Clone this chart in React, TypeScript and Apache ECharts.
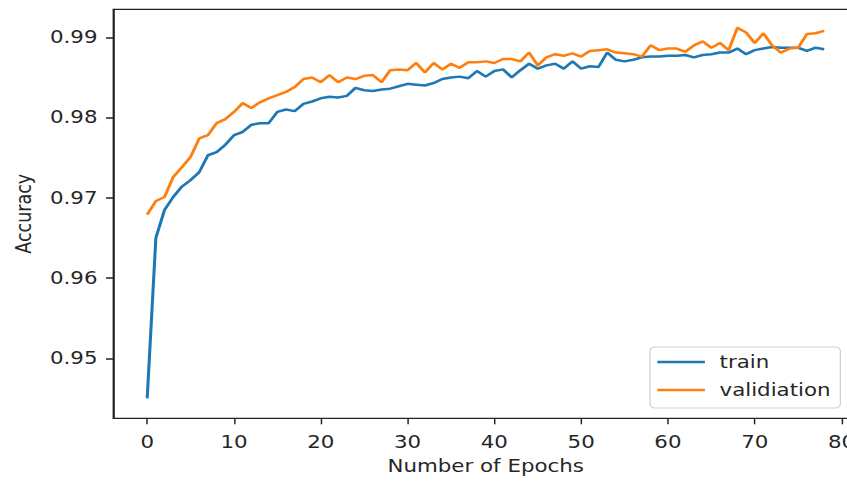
import React, { useEffect, useRef } from "react";
import * as echarts from "echarts";

// Accuracy per epoch (epochs 0..78)
const trainAcc = [
  0.945, 0.965, 0.9685, 0.9701, 0.9714, 0.9722, 0.9732, 0.9753, 0.9757, 0.9766,
  0.9778, 0.9782, 0.9791, 0.9793, 0.9793, 0.9807, 0.981, 0.9808, 0.9817, 0.982,
  0.9824, 0.9826, 0.9825, 0.9827, 0.9837, 0.9834, 0.9833, 0.9835, 0.9836, 0.9839,
  0.9842, 0.9841, 0.984, 0.9843, 0.9848, 0.985, 0.9851, 0.9849, 0.9858, 0.9851,
  0.9858, 0.986, 0.985, 0.9859, 0.9867, 0.9861, 0.9865, 0.9867, 0.9861, 0.987,
  0.9861, 0.9864, 0.9863, 0.9881, 0.9872, 0.987, 0.9872, 0.9875, 0.9876, 0.9876,
  0.9877, 0.9877, 0.9878, 0.9875, 0.9878, 0.9879, 0.9881, 0.9881, 0.9886, 0.9879,
  0.9884, 0.9886, 0.9888, 0.9887, 0.9887, 0.9887, 0.9883, 0.9887, 0.9885,
];

const validationAcc = [
  0.9679, 0.9696, 0.9701, 0.9726, 0.9738, 0.9751, 0.9774, 0.9778, 0.9793, 0.9798,
  0.9807, 0.9818, 0.9812, 0.9819, 0.9824, 0.9828, 0.9832, 0.9838, 0.9848, 0.985,
  0.9844, 0.9853, 0.9844, 0.985, 0.9848, 0.9852, 0.9853, 0.9844, 0.9859, 0.986,
  0.9859, 0.9868, 0.9856, 0.9868, 0.986, 0.9867, 0.9862, 0.9869, 0.9869, 0.987,
  0.9868, 0.9873, 0.9873, 0.987, 0.9881, 0.9865, 0.9875, 0.9879, 0.9877, 0.988,
  0.9876, 0.9883, 0.9884, 0.9885, 0.9881, 0.988, 0.9879, 0.9876, 0.989, 0.9884,
  0.9886, 0.9886, 0.9882, 0.989, 0.9895, 0.9887, 0.9893, 0.9884, 0.9912, 0.9906,
  0.9893, 0.9905, 0.989, 0.9881, 0.9886, 0.9887, 0.9904, 0.9905, 0.9908,
];

const epochTicks = [0, 10, 20, 30, 40, 50, 60, 70, 80];
const accuracyTicks = [0.95, 0.96, 0.97, 0.98, 0.99];
const seriesNames = ["train", "validiation"];

const STRETCH = 1.22;
const INNER_W = 720;
const H = 481;
const FONT = "DejaVu Sans";
const TEXT = "#262626";
const SPINE = "#222";

export default function App() {
  const ref = useRef<HTMLDivElement | null>(null);

  useEffect(() => {
    if (!ref.current) return;
    const chart = echarts.init(ref.current, null, {
      renderer: "svg",
      width: INNER_W,
      height: H,
    });
    const toPairs = (arr: number[]) => arr.map((v, i) => [i, v]);
    chart.setOption({
      animation: false,
      backgroundColor: "#fff",
      grid: {
        left: 92.9,
        top: 9.3,
        width: 610.4,
        height: 409,
        show: true,
        borderColor: SPINE,
        borderWidth: 1.2,
        backgroundColor: "transparent",
      },
      legend: {
        orient: "vertical",
        left: 532.8,
        top: 347,
        padding: [6, 8, 9, 6],
        itemGap: 10,
        itemWidth: 39,
        itemHeight: 2.6,
        icon: "rect",
        backgroundColor: "rgba(255,255,255,0.8)",
        borderColor: "#d0d0d0",
        borderWidth: 1,
        borderRadius: 4,
        textStyle: {
          fontFamily: FONT,
          fontSize: 17.5,
          color: TEXT,
          padding: [0, 0, 0, 7],
          lineHeight: 18,
        },
        data: seriesNames,
      },
      xAxis: {
        type: "value",
        position: "bottom",
        min: -3.9,
        max: 81.9,
        name: "Number of Epochs",
        nameLocation: "middle",
        nameGap: 39,
        nameTextStyle: { fontFamily: FONT, fontSize: 17.5, color: TEXT },
        axisLine: { show: true, onZero: false, lineStyle: { color: SPINE, width: 1.2 } },
        splitLine: { show: false },
        axisTick: {
          show: true,
          inside: false,
          length: 6,
          customValues: epochTicks,
          lineStyle: { color: SPINE, width: 1.2 },
        },
        axisLabel: {
          customValues: epochTicks,
          margin: 15,
          fontFamily: FONT,
          fontSize: 17.5,
          color: TEXT,
        },
      },
      yAxis: {
        type: "value",
        position: "left",
        min: 0.94252,
        max: 0.99349,
        name: "Accuracy",
        nameLocation: "middle",
        nameGap: 64,
        nameTextStyle: { fontFamily: FONT, fontSize: 17.5, color: TEXT },
        axisLine: { show: true, onZero: false, lineStyle: { color: SPINE, width: 1.2 } },
        splitLine: { show: false },
        axisTick: {
          show: true,
          inside: false,
          length: 6,
          customValues: accuracyTicks,
          lineStyle: { color: SPINE, width: 1.5 },
        },
        axisLabel: {
          customValues: accuracyTicks,
          margin: 13,
          fontFamily: FONT,
          fontSize: 17.5,
          color: TEXT,
          formatter: (v: number) => v.toFixed(2),
        },
      },
      series: [
        {
          name: seriesNames[0],
          type: "line",
          data: toPairs(trainAcc),
          symbol: "none",
          color: "#1f77b4",
          lineStyle: { color: "#1f77b4", width: 2.5 },
        },
        {
          name: seriesNames[1],
          type: "line",
          data: toPairs(validationAcc),
          symbol: "none",
          color: "#ff7f0e",
          lineStyle: { color: "#ff7f0e", width: 2.5 },
        },
      ],
    });
    return () => chart.dispose();
  }, []);

  return (
    <div
      style={{
        position: "fixed",
        left: 0,
        top: 0,
        width: 847,
        height: H,
        overflow: "hidden",
        background: "#fff",
      }}
    >
      <div
        ref={ref}
        style={{
          width: INNER_W,
          height: H,
          transform: `scaleX(${STRETCH})`,
          transformOrigin: "0 0",
        }}
      />
    </div>
  );
}
